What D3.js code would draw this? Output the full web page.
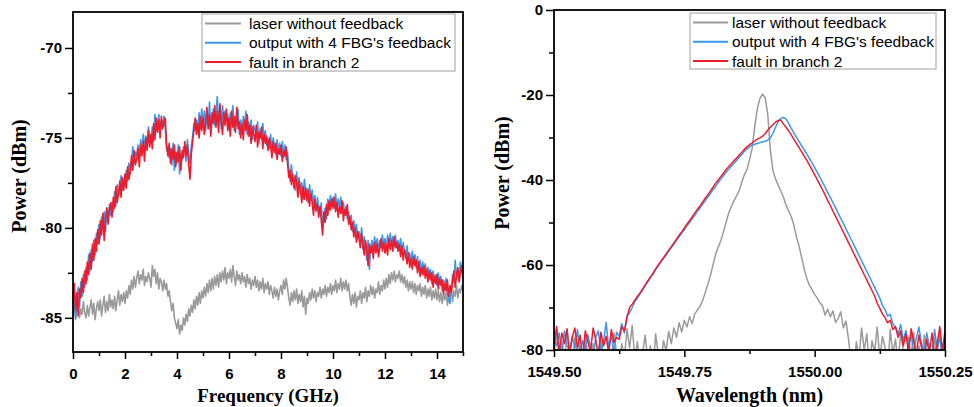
<!DOCTYPE html>
<html>
<head>
<meta charset="utf-8">
<script src="https://cdn.jsdelivr.net/npm/d3@7"></script>
<style>
  body { margin: 0; background: #fff; }
  .tick text { font-family: "Liberation Sans", Arial, sans-serif; font-weight: bold; font-size: 15px; fill: #000; }
  .axis-title { font-family: "Liberation Serif", "Times New Roman", serif; font-weight: bold; font-size: 20px; }
  .legend text { font-family: "Liberation Sans", Arial, sans-serif; font-size: 15.5px; }
</style>
</head>
<body>
<svg id="chart" width="974" height="407"></svg>
<script>
// series labels / colours
var seriesNames = ["laser without feedback", "output with 4 FBG's feedback", "fault in branch 2"];
var seriesColors = ["#9a9a9a", "#3a97ec", "#ec1c2c"];

// left panel: RF spectrum, sampled every 0.05 GHz from 0 to 15
var freqStart = 0, freqStep = 0.05;
var leftGray = [
  -84.9,-84.3,-85.1,-84.6,-84.2,-85.0,-84.5,-84.8,-84.1,-84.7,
  -85.0,-84.3,-84.9,-84.4,-84.0,-84.8,-84.2,-85.1,-84.5,-84.1,
  -84.6,-84.0,-84.9,-84.3,-83.8,-84.7,-84.1,-84.6,-83.7,-84.4,
  -84.0,-84.5,-83.8,-84.6,-84.0,-83.5,-84.3,-83.7,-84.1,-83.6,
  -84.2,-83.5,-83.9,-83.2,-83.7,-82.9,-83.4,-82.7,-83.3,-82.8,
  -82.4,-83.1,-82.6,-82.9,-82.3,-83.2,-82.7,-83.0,-82.5,-82.8,
  -83.3,-82.1,-82.7,-82.3,-83.1,-82.5,-83.4,-82.8,-83.0,-83.5,
  -82.9,-83.4,-83.1,-83.8,-83.5,-84.1,-84.6,-84.2,-85.0,-85.3,
  -85.6,-85.1,-85.9,-85.4,-85.7,-85.0,-85.4,-84.8,-85.2,-84.5,
  -84.9,-84.3,-84.7,-84.0,-84.5,-83.8,-84.3,-83.6,-84.2,-83.5,
  -83.9,-83.3,-83.8,-83.1,-83.6,-82.9,-83.5,-82.8,-83.4,-82.7,
  -83.2,-82.6,-83.3,-82.5,-83.0,-82.4,-82.9,-82.2,-83.1,-82.5,
  -82.8,-82.3,-83.0,-82.1,-82.7,-83.2,-82.4,-82.9,-82.6,-83.1,
  -82.5,-83.0,-82.7,-83.3,-82.6,-83.1,-82.8,-83.4,-82.9,-83.2,
  -82.7,-83.3,-82.9,-83.5,-83.0,-83.4,-82.8,-83.6,-83.1,-83.4,
  -83.0,-83.7,-83.2,-83.5,-83.9,-83.3,-83.8,-83.4,-84.0,-83.5,
  -83.2,-83.7,-82.9,-83.4,-82.8,-83.3,-83.9,-84.3,-83.6,-84.1,
  -83.5,-84.0,-83.4,-84.2,-83.7,-84.1,-83.5,-84.4,-83.8,-84.8,
  -83.9,-84.2,-83.6,-84.0,-83.4,-83.9,-83.5,-84.1,-83.6,-83.8,
  -83.3,-83.9,-83.4,-83.7,-83.2,-83.8,-83.3,-83.6,-83.1,-83.7,
  -83.2,-83.5,-82.9,-83.6,-83.1,-83.4,-82.8,-83.5,-83.0,-83.4,
  -82.9,-83.5,-83.1,-83.8,-84.3,-83.7,-84.2,-83.6,-84.4,-83.8,
  -84.0,-83.5,-84.2,-83.6,-83.9,-83.3,-84.1,-83.5,-83.8,-83.2,
  -83.7,-83.3,-83.9,-83.4,-83.6,-83.0,-83.7,-83.2,-83.5,-82.9,
  -83.4,-82.8,-83.3,-82.6,-83.1,-82.5,-82.9,-82.4,-83.0,-82.6,
  -82.8,-82.4,-83.0,-82.6,-83.1,-82.7,-83.3,-82.9,-83.5,-83.0,
  -83.4,-83.0,-83.6,-83.1,-83.7,-83.2,-83.5,-83.1,-83.8,-83.3,
  -83.7,-83.2,-83.9,-83.4,-83.8,-83.3,-84.0,-83.5,-83.9,-83.4,
  -84.0,-83.5,-84.1,-83.6,-84.2,-83.7,-84.0,-83.6,-84.3,-83.8,
  -83.9,-83.4,-84.1,-83.5,-83.8,-83.2,-83.9,-83.4,-83.6,-83.2,
  -83.5];
var leftBlue = [
  -84.8,-83.7,-85.0,-84.1,-83.3,-84.4,-83.0,-83.8,-82.6,-83.3,
  -82.2,-82.9,-81.5,-82.4,-81.2,-81.9,-80.7,-81.5,-80.3,-80.9,
  -79.8,-80.6,-79.4,-80.0,-79.1,-80.2,-78.9,-79.6,-78.7,-79.3,
  -78.6,-79.1,-78.0,-78.8,-77.6,-78.2,-77.8,-77.1,-77.9,-77.4,
  -77.7,-76.8,-77.4,-76.4,-77.0,-76.3,-75.5,-76.4,-75.8,-76.0,
  -75.4,-76.1,-75.1,-75.8,-74.8,-75.6,-74.9,-75.4,-74.4,-75.0,
  -75.3,-74.4,-75.2,-73.7,-74.6,-74.2,-73.7,-74.6,-74.0,-74.3,
  -73.8,-74.5,-75.7,-75.5,-76.1,-75.6,-76.5,-75.3,-76.8,-75.8,
  -76.4,-75.4,-77.0,-75.9,-76.2,-75.5,-75.6,-76.3,-75.1,-75.9,
  -76.4,-75.5,-74.9,-74.2,-74.6,-74.0,-74.7,-73.6,-74.5,-73.4,
  -74.2,-73.5,-74.6,-73.8,-74.3,-73.0,-74.7,-73.9,-73.4,-74.3,
  -73.6,-72.7,-74.1,-73.4,-74.5,-73.2,-74.1,-73.5,-74.0,-73.7,
  -74.5,-73.6,-74.2,-73.2,-74.6,-73.9,-74.3,-73.4,-74.8,-74.0,
  -74.7,-73.8,-74.4,-73.5,-74.8,-74.1,-74.6,-74.0,-75.1,-74.3,
  -74.6,-75.0,-74.1,-75.3,-74.5,-75.1,-74.2,-75.0,-74.6,-75.4,
  -75.1,-75.6,-74.8,-75.7,-75.0,-75.5,-75.9,-75.1,-75.8,-75.3,
  -76.0,-75.2,-76.1,-75.4,-76.2,-75.8,-76.7,-77.4,-76.5,-77.2,
  -77.3,-77.9,-76.9,-77.7,-77.2,-78.1,-77.5,-78.4,-77.3,-78.0,
  -77.8,-78.6,-77.6,-78.3,-77.9,-78.7,-78.2,-79.1,-78.3,-78.9,
  -79.2,-78.6,-79.9,-79.4,-78.9,-79.5,-78.4,-79.0,-78.2,-78.8,
  -78.3,-78.9,-78.1,-79.0,-78.4,-78.9,-78.3,-79.2,-78.6,-79.3,
  -78.8,-79.5,-79.1,-79.7,-79.3,-80.2,-79.6,-80.3,-79.8,-80.6,
  -80.2,-80.8,-80.0,-81.2,-80.5,-81.0,-81.8,-80.7,-82.3,-81.1,
  -80.7,-81.3,-80.5,-81.1,-80.6,-81.3,-80.7,-81.1,-80.4,-81.0,
  -80.6,-81.2,-80.4,-81.0,-80.3,-80.9,-80.5,-81.0,-80.4,-81.1,
  -80.7,-81.2,-80.6,-81.4,-80.8,-81.3,-81.7,-81.0,-81.8,-81.4,
  -82.0,-81.3,-81.9,-81.5,-82.2,-81.6,-82.3,-81.8,-82.5,-81.9,
  -82.6,-82.0,-82.6,-82.2,-82.8,-82.3,-83.1,-82.4,-82.9,-82.6,
  -83.2,-82.5,-83.1,-82.7,-83.5,-82.9,-83.3,-82.8,-83.6,-84.0,
  -84.2,-83.4,-82.6,-83.0,-81.8,-82.9,-82.3,-82.8,-81.9,-82.5,
  -82.3];
var leftRed = [
  -84.0,-83.1,-84.6,-83.6,-84.9,-83.4,-83.9,-82.8,-83.6,-82.4,
  -83.1,-81.9,-82.6,-81.4,-82.3,-80.9,-81.8,-80.6,-81.3,-80.1,
  -80.9,-79.6,-80.4,-79.2,-80.7,-79.5,-78.9,-79.8,-79.0,-78.6,
  -79.4,-78.3,-78.9,-77.7,-78.6,-78.1,-77.4,-78.3,-77.2,-77.9,
  -77.0,-77.8,-76.6,-77.3,-76.9,-76.0,-76.8,-75.7,-76.5,-76.2,
  -75.6,-76.6,-75.4,-76.0,-75.2,-76.3,-75.0,-75.7,-74.6,-75.5,
  -74.8,-75.6,-74.2,-75.1,-73.9,-74.7,-74.0,-75.0,-73.8,-74.5,
  -74.1,-73.9,-75.4,-76.0,-75.3,-76.4,-75.6,-76.2,-75.4,-76.6,
  -75.8,-76.3,-75.5,-76.8,-75.7,-76.1,-75.2,-76.0,-75.4,-76.5,
  -77.3,-75.9,-75.2,-74.6,-73.9,-74.8,-74.2,-75.0,-73.8,-74.6,
  -73.9,-74.8,-74.1,-73.3,-74.5,-73.7,-74.9,-73.6,-74.2,-73.2,
  -74.4,-73.5,-74.7,-73.1,-74.0,-74.8,-73.6,-74.3,-73.4,-74.6,
  -73.9,-74.9,-73.5,-74.4,-73.8,-74.7,-73.3,-74.5,-74.1,-75.0,
  -74.2,-75.1,-74.0,-74.6,-73.7,-74.9,-74.3,-75.3,-74.4,-74.8,
  -75.2,-74.3,-75.5,-74.7,-75.0,-74.4,-75.6,-74.8,-75.3,-74.9,
  -75.7,-75.0,-75.4,-76.1,-75.2,-75.8,-75.3,-76.2,-75.6,-75.9,
  -75.4,-76.3,-75.7,-76.0,-75.5,-76.4,-77.2,-76.8,-77.6,-77.0,
  -77.8,-77.1,-77.5,-78.3,-77.4,-77.9,-78.6,-77.7,-78.4,-77.8,
  -78.5,-77.9,-78.8,-78.1,-78.6,-79.3,-78.4,-79.0,-78.7,-79.4,
  -78.8,-79.6,-80.4,-79.1,-79.7,-78.7,-79.3,-78.5,-79.0,-78.4,
  -78.9,-78.3,-79.1,-78.6,-79.4,-78.8,-79.2,-78.5,-79.6,-79.0,
  -79.3,-78.7,-79.8,-79.4,-80.1,-79.7,-80.5,-80.0,-80.8,-80.2,
  -80.6,-81.1,-80.3,-80.9,-81.5,-80.7,-81.2,-82.1,-80.9,-81.4,
  -81.0,-81.7,-80.8,-81.4,-80.9,-81.6,-81.1,-80.6,-81.3,-80.8,
  -81.4,-80.9,-81.5,-80.6,-81.2,-80.7,-81.3,-80.5,-81.1,-80.8,
  -81.3,-80.9,-81.6,-81.0,-81.8,-81.2,-81.5,-82.0,-81.4,-82.2,
  -81.7,-82.3,-81.6,-82.1,-81.8,-82.5,-81.9,-82.7,-82.2,-82.6,
  -82.1,-82.8,-82.3,-83.0,-82.4,-82.9,-82.5,-83.3,-82.7,-83.1,
  -82.6,-83.4,-82.8,-83.2,-82.9,-83.7,-83.1,-83.5,-82.9,-83.8,
  -83.2,-83.6,-83.0,-82.4,-83.3,-82.7,-82.2,-83.0,-82.5,-82.1,
  -82.8];
var leftXTicks = [0, 2, 4, 6, 8, 10, 12, 14];
var leftYTicks = [-85, -80, -75, -70];

// right panel: optical spectrum, sampled every 0.005 nm from 1549.50 to 1550.25
var wlStart = 1549.5, wlStep = 0.005;
var rightGray = [-81,-76,-82,-78,-83,-75.5,-80.5,-84,-77,-82,
  -79,-85,-76.5,-81.5,-83,-78.5,-84,-80,-77.5,-82.5,
  -85,-79.5,-83,-76,-81,-84,-78.5,-82,-75.0,-79.5,
  -74.2,-82,-78,-84,-80.5,-76.5,-83,-79,-85,-76.2,
  -81,-83.5,-77.8,-80.2,-75.6,-78.5,-74.8,-77.0,-73.6,-75.8,
  -73.0,-74.6,-72.2,-73.8,-71.5,-70.6,-69.8,-68.4,-66.5,-64.6,
  -62.5,-60.0,-57.5,-55.8,-54.3,-52.2,-50.0,-47.8,-46.3,-44.9,
  -43.8,-42.6,-40.6,-38.8,-37.6,-35.2,-32.6,-27.5,-23.2,-20.8,
  -19.8,-20.6,-24.5,-33.0,-37.8,-39.8,-41.2,-42.6,-44.0,-45.9,
  -47.3,-48.6,-50.6,-53.4,-55.5,-58.2,-61.0,-63.2,-64.8,-65.8,
  -66.9,-67.8,-68.9,-69.6,-71.8,-70.4,-72.2,-70.8,-73.5,-72.6,
  -71.0,-74.8,-73.2,-77.5,-83,-85,-78,-82,-74.8,-80,
  -76.2,-84,-77.8,-80.5,-74.6,-82,-76.8,-79.5,-85,-75.2,
  -81,-77.4,-83,-76,-80,-84.5,-77,-81.5,-75.8,-83,
  -79,-85,-76.5,-82,-78.5,-84,-77,-81,-75.5,-83,
  -79];
var rightBlue = [-77.5,-79,-76,-81,-75.5,-78.8,-80.5,-76.8,-79.5,-75.2,
  -81.2,-77.8,-80,-76.4,-79.2,-82,-77,-75.5,-80.4,-78.2,
  -73.5,-79.6,-76.5,-80.8,-75.8,-76.8,-73.8,-76.0,-72.0,-71.2,
  -70.0,-68.6,-67.8,-66.8,-65.9,-64.8,-64.0,-62.9,-62.2,-61.1,
  -60.2,-59.3,-58.5,-57.7,-56.8,-55.9,-55.1,-54.2,-53.4,-52.5,
  -51.7,-50.8,-50.0,-49.1,-48.3,-47.4,-46.6,-45.7,-44.9,-44.0,
  -43.2,-42.3,-41.5,-40.6,-39.8,-39.0,-38.2,-37.5,-36.8,-36.1,
  -35.4,-34.7,-34.0,-33.3,-32.7,-32.2,-31.8,-31.6,-31.4,-31.2,
  -31.0,-30.9,-30.6,-30.1,-29.0,-27.6,-26.3,-25.5,-25.3,-25.6,
  -26.6,-27.8,-28.9,-29.9,-30.9,-31.9,-32.9,-33.9,-34.9,-36.0,
  -37.1,-38.2,-39.3,-40.5,-41.7,-42.9,-44.1,-45.3,-46.5,-47.8,
  -49.0,-50.2,-51.5,-52.7,-54.0,-55.2,-56.5,-57.7,-59.0,-60.2,
  -61.5,-62.7,-64.0,-65.2,-66.5,-67.8,-69.5,-70.5,-72.0,-71.6,
  -73.8,-74.6,-76.2,-74.0,-77.8,-75.4,-79.0,-76.4,-80.6,-77.2,
  -74.6,-78.6,-80.4,-76.0,-79.2,-81.4,-75.2,-79.8,-77.0,-82.0,
  -76.6];
var rightRed = [-79,-74.5,-80.5,-76,-78.5,-75,-81,-77,-74.8,-79.5,
  -76.5,-82,-75.5,-78,-80.5,-74.8,-77.5,-81.5,-75.8,-79,
  -76.8,-80.8,-75.2,-78.2,-77,-77.5,-74.5,-75.5,-72.3,-70.0,
  -69.2,-68.3,-67.4,-66.6,-65.6,-64.7,-63.7,-62.9,-61.9,-60.9,
  -60.0,-59.1,-58.3,-57.4,-56.5,-55.7,-54.8,-53.9,-53.0,-52.2,
  -51.3,-50.4,-49.6,-48.7,-47.8,-46.9,-46.1,-45.2,-44.3,-43.5,
  -42.6,-41.7,-40.8,-40.0,-39.2,-38.4,-37.6,-36.9,-36.2,-35.5,
  -34.9,-34.2,-33.5,-32.8,-32.2,-31.7,-31.3,-30.8,-30.4,-30.1,
  -29.7,-29.1,-28.3,-27.6,-27.0,-26.4,-26.0,-25.9,-26.8,-27.6,
  -28.4,-29.4,-30.4,-31.4,-32.4,-33.4,-34.4,-35.4,-36.5,-37.6,
  -38.8,-39.9,-41.1,-42.3,-43.5,-44.8,-46.0,-47.3,-48.5,-49.8,
  -51.0,-52.3,-53.5,-54.8,-56.0,-57.3,-58.5,-59.8,-61.0,-62.3,
  -63.5,-64.8,-66.0,-67.3,-69.0,-70.2,-71.5,-72.4,-73.6,-73.0,
  -75.2,-74.5,-77,-75.5,-79,-76.2,-80.5,-75,-78,-81,
  -76.5,-79.5,-82,-77.5,-80.8,-76,-81.5,-78.5,-74.5,-80.2,
  -75.5];
var rightXTicks = [1549.50, 1549.75, 1550.00, 1550.25];
var rightYTicks = [-80, -60, -40, -20, 0];

var svg = d3.select('#chart');

function drawPanel(cfg) {
    var g = svg.append('g');
    var x = d3.scaleLinear().domain(cfg.xDomain).range([cfg.left, cfg.right]);
    var y = d3.scaleLinear().domain(cfg.yDomain).range([cfg.bottom, cfg.top]);

    var clipId = 'clip-' + cfg.id;
    svg.append('clipPath').attr('id', clipId).append('rect')
        .attr('x', cfg.left).attr('y', cfg.top)
        .attr('width', cfg.right - cfg.left).attr('height', cfg.bottom - cfg.top);

    // curves, gray first so red ends on top
    var line = d3.line()
        .x(function (d, i) { return x(cfg.xStart + i * cfg.xStep); })
        .y(function (d) { return y(d); });
    var lines = g.append('g').attr('clip-path', 'url(#' + clipId + ')');
    cfg.series.forEach(function (s, k) {
        lines.append('path').datum(s)
            .attr('d', line)
            .attr('fill', 'none')
            .attr('stroke', seriesColors[k])
            .attr('stroke-width', cfg.lineWidth)
            .attr('stroke-linejoin', 'round');
    });

    // minor ticks
    g.append('g').attr('transform', 'translate(0,' + cfg.bottom + ')')
        .call(d3.axisBottom(x).tickValues(cfg.xMinor).tickSize(4).tickFormat(''))
        .call(function (a) { a.select('.domain').remove(); a.selectAll('line').attr('stroke-width', 1.5); });
    g.append('g').attr('transform', 'translate(' + cfg.left + ',0)')
        .call(d3.axisLeft(y).tickValues(cfg.yMinor).tickSize(5).tickFormat(''))
        .call(function (a) { a.select('.domain').remove(); a.selectAll('line').attr('stroke-width', 1.5); });

    // major ticks
    g.append('g').attr('transform', 'translate(0,' + cfg.bottom + ')')
        .call(d3.axisBottom(x).tickValues(cfg.xTicks).tickSize(7).tickPadding(9).tickFormat(cfg.xFormat))
        .call(function (a) { a.select('.domain').remove(); a.selectAll('line').attr('stroke-width', 1.5); });
    g.append('g').attr('transform', 'translate(' + cfg.left + ',0)')
        .call(d3.axisLeft(y).tickValues(cfg.yTicks).tickSize(8).tickPadding(3).tickFormat(function (d) { return String(d); }))
        .call(function (a) { a.select('.domain').remove(); a.selectAll('line').attr('stroke-width', 1.5); });

    // frame
    g.append('rect')
        .attr('x', cfg.left).attr('y', cfg.top)
        .attr('width', cfg.right - cfg.left).attr('height', cfg.bottom - cfg.top)
        .attr('fill', 'none').attr('stroke', '#000').attr('stroke-width', 1.8);

    // axis titles
    g.append('text').attr('class', 'axis-title')
        .attr('x', (cfg.left + cfg.right) / 2).attr('y', 402)
        .attr('text-anchor', 'middle').style('font-size', cfg.xTitleSize + 'px').text(cfg.xTitle);
    g.append('text').attr('class', 'axis-title')
        .attr('transform', 'translate(' + cfg.yTitleX + ',' + cfg.yTitleY + ') rotate(-90)')
        .attr('text-anchor', 'middle').text('Power (dBm)');

    // legend
    var lg = g.append('g').attr('class', 'legend');
    lg.append('rect')
        .attr('x', cfg.legend.x).attr('y', cfg.legend.y)
        .attr('width', cfg.legend.w).attr('height', cfg.legend.h)
        .attr('fill', '#fff').attr('stroke', '#a0a0a0').attr('stroke-width', 1);
    seriesNames.forEach(function (name, k) {
        var ly = cfg.legend.y + 9.5 + k * 19.3;
        lg.append('line')
            .attr('x1', cfg.legend.x + 3).attr('x2', cfg.legend.x + cfg.legend.lineLen)
            .attr('y1', ly).attr('y2', ly)
            .attr('stroke', seriesColors[k]).attr('stroke-width', 2);
        lg.append('text')
            .attr('x', cfg.legend.x + cfg.legend.textOff).attr('y', ly + 5.5)
            .text(name);
    });
}

drawPanel({
    id: 'left', left: 73, right: 463, top: 12, bottom: 352,
    xDomain: [0, 15], yDomain: [-86.9, -68],
    xStart: freqStart, xStep: freqStep,
    series: [leftGray, leftBlue, leftRed], lineWidth: 1.6,
    xTicks: leftXTicks, xMinor: [1, 3, 5, 7, 9, 11, 13, 15],
    yTicks: leftYTicks, yMinor: [-82.5, -77.5, -72.5],
    xFormat: function (d) { return String(d); },
    xTitle: 'Frequency (GHz)', xTitleSize: 19, yTitleX: 26, yTitleY: 176,
    legend: { x: 202, y: 14, w: 253, h: 57, lineLen: 39, textOff: 47 }
});

drawPanel({
    id: 'right', left: 554, right: 945, top: 10, bottom: 350,
    xDomain: [1549.5, 1550.25], yDomain: [-80, 0],
    xStart: wlStart, xStep: wlStep,
    series: [rightGray, rightBlue, rightRed], lineWidth: 1.5,
    xTicks: rightXTicks, xMinor: [1549.625, 1549.875, 1550.125],
    yTicks: rightYTicks, yMinor: [-70, -50, -30, -10],
    xFormat: function (d) { return d.toFixed(2); },
    xTitle: 'Wavelength (nm)', xTitleSize: 20, yTitleX: 509, yTitleY: 173,
    legend: { x: 690, y: 13, w: 246, h: 56, lineLen: 38, textOff: 42 }
});
</script>
</body>
</html>
